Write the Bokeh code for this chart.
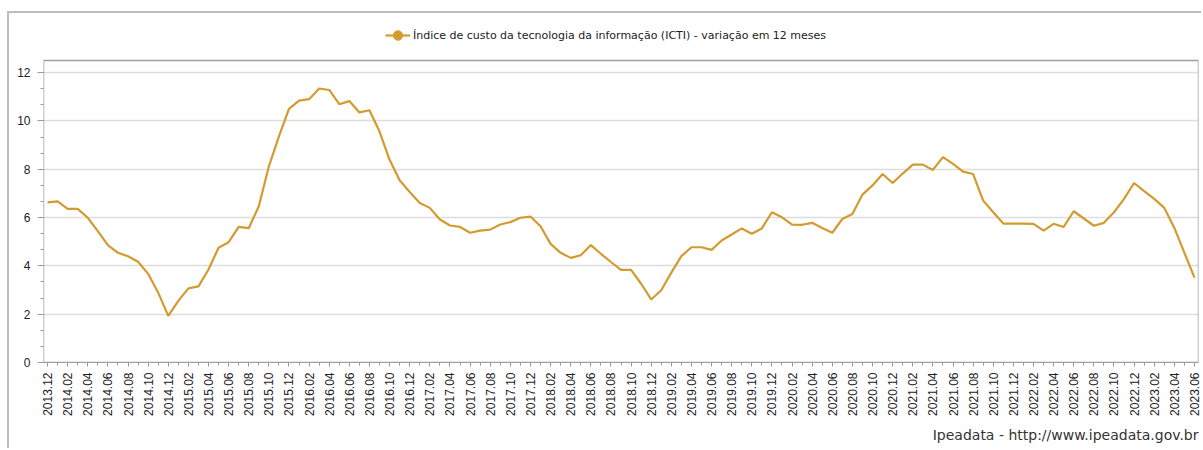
import math
from bokeh.plotting import figure
from bokeh.models import (ColumnDataSource, FixedTicker, Legend, LegendItem, Title,
                          Range1d, BoxAnnotation)
from bokeh.embed import file_html
from bokeh.resources import INLINE

# ---- data ----
start_year, start_month = 2013, 12
months = []
y_, m_ = start_year, start_month
for _ in range(115):
    months.append(f"{y_}.{m_:02d}")
    m_ += 1
    if m_ > 12:
        m_ = 1
        y_ += 1

icti = [
    6.63, 6.67, 6.36, 6.36, 5.99, 5.44, 4.86, 4.54, 4.40, 4.17, 3.67, 2.89,
    1.93, 2.55, 3.07, 3.15, 3.85, 4.75, 4.98, 5.61, 5.56, 6.47, 8.12, 9.36,
    10.50, 10.84, 10.90, 11.34, 11.28, 10.69, 10.82, 10.35, 10.44, 9.56, 8.39, 7.54,
    7.06, 6.60, 6.40, 5.92, 5.67, 5.61, 5.37, 5.46, 5.50, 5.71, 5.81, 5.99,
    6.04, 5.64, 4.91, 4.54, 4.33, 4.44, 4.86, 4.50, 4.16, 3.83, 3.83, 3.26,
    2.61, 2.99, 3.72, 4.40, 4.77, 4.77, 4.66, 5.05, 5.30, 5.55, 5.33, 5.55,
    6.22, 6.01, 5.71, 5.70, 5.78, 5.57, 5.37, 5.94, 6.15, 6.95, 7.33, 7.80,
    7.43, 7.82, 8.19, 8.19, 7.97, 8.50, 8.22, 7.90, 7.80, 6.70, 6.22, 5.75,
    5.75, 5.75, 5.74, 5.46, 5.74, 5.61, 6.26, 5.96, 5.66, 5.78, 6.22, 6.77,
    7.43, 7.09, 6.77, 6.40, 5.57, 4.54, 3.51,
]
series_name = "Índice de custo da tecnologia da informação (ICTI) - variação em 12 meses"
y_ticks = [0, 2, 4, 6, 8, 10, 12]
y_max = 12.5
footer = "Ipeadata - http://www.ipeadata.gov.br"

COLOR = "#D39B2F"

# layout (pixels)
PLOT_H = 302          # height of the chart box
HEAD = 40             # room above the chart box for the legend
x_lo, x_hi = -0.4, len(icti) - 1 + 0.4

idx = list(range(len(icti)))
src = ColumnDataSource(data=dict(x=idx, y=icti, label=months))

p = figure(width=1194, height=437, output_backend="svg", toolbar_location=None,
           x_range=Range1d(x_lo, x_hi), y_range=Range1d(0, y_max * (PLOT_H + HEAD) / PLOT_H),
           min_border_left=34, min_border_right=5, min_border_top=7, min_border_bottom=88)
# an off-screen range, used only so the legend can show the marker symbol
p.extra_x_ranges = {"legend_only": Range1d(10000, 10001)}
p.styles = {"border-top": "2px solid #bdbdbd", "border-left": "2px solid #bdbdbd",
            "margin-top": "11px", "margin-left": "7px"}
p.background_fill_color = "white"
p.border_fill_color = "white"
p.outline_line_color = None

p.add_layout(BoxAnnotation(left=x_lo, right=x_hi, bottom=0, top=y_max,
                           fill_alpha=0, fill_color=None, line_color="#a0a0a0",
                           line_alpha=1.0, line_width=1.5))

r_line = p.line("x", "y", source=src, line_color=COLOR, line_width=2.2)
r_pt = p.scatter("x", "y", source=src, marker="circle", size=10, fill_color=COLOR,
                 line_color="#DCA640", x_range_name="legend_only")

# axes
xa = p.xaxis[0]
xa.ticker = FixedTicker(ticks=idx[::2], minor_ticks=idx)
xa.major_label_overrides = {i: months[i] for i in idx[::2]}
xa.major_label_orientation = math.pi / 2
xa.major_label_text_font = "Liberation Sans"
xa.major_label_text_font_size = "12px"
xa.major_label_text_color = "#222222"
xa.axis_line_color = "#a0a0a0"
xa.major_tick_line_color = "#999999"
xa.minor_tick_line_color = "#999999"
xa.major_tick_in = 0
xa.major_tick_out = 4
xa.minor_tick_in = 0
xa.minor_tick_out = 3
xa.major_label_standoff = 6

ya = p.yaxis[0]
minor = [k * 2 / 3 for k in range(0, 19)]
ya.ticker = FixedTicker(ticks=y_ticks, minor_ticks=minor)
ya.major_label_text_font = "Liberation Sans"
ya.major_label_text_font_size = "12px"
ya.major_label_text_color = "#222222"
ya.axis_line_color = None
ya.major_tick_line_color = "#999999"
ya.minor_tick_line_color = "#999999"
ya.major_tick_in = 0
ya.major_tick_out = 6
ya.minor_tick_in = 0
ya.minor_tick_out = 3
ya.major_label_standoff = 7

p.xgrid.grid_line_color = None
p.ygrid.grid_line_color = "#dddddd"
p.ygrid.grid_line_width = 1.5

legend = Legend(items=[LegendItem(label=series_name, renderers=[r_line, r_pt])],
                location=(342, PLOT_H + 13), orientation="horizontal",
                border_line_color=None, background_fill_alpha=0,
                padding=0, margin=0, glyph_width=25, glyph_height=24,
                label_height=12, label_standoff=3,
                label_text_font="DejaVu Sans", label_text_font_size="11px",
                label_text_color="#222222")
p.add_layout(legend, "center")

p.add_layout(Title(text=footer, align="right", text_font="DejaVu Sans",
                   text_font_size="14px", text_font_style="normal",
                   text_color="#333333", standoff=12), "below")

open("out.html", "w").write(file_html(p, INLINE))
